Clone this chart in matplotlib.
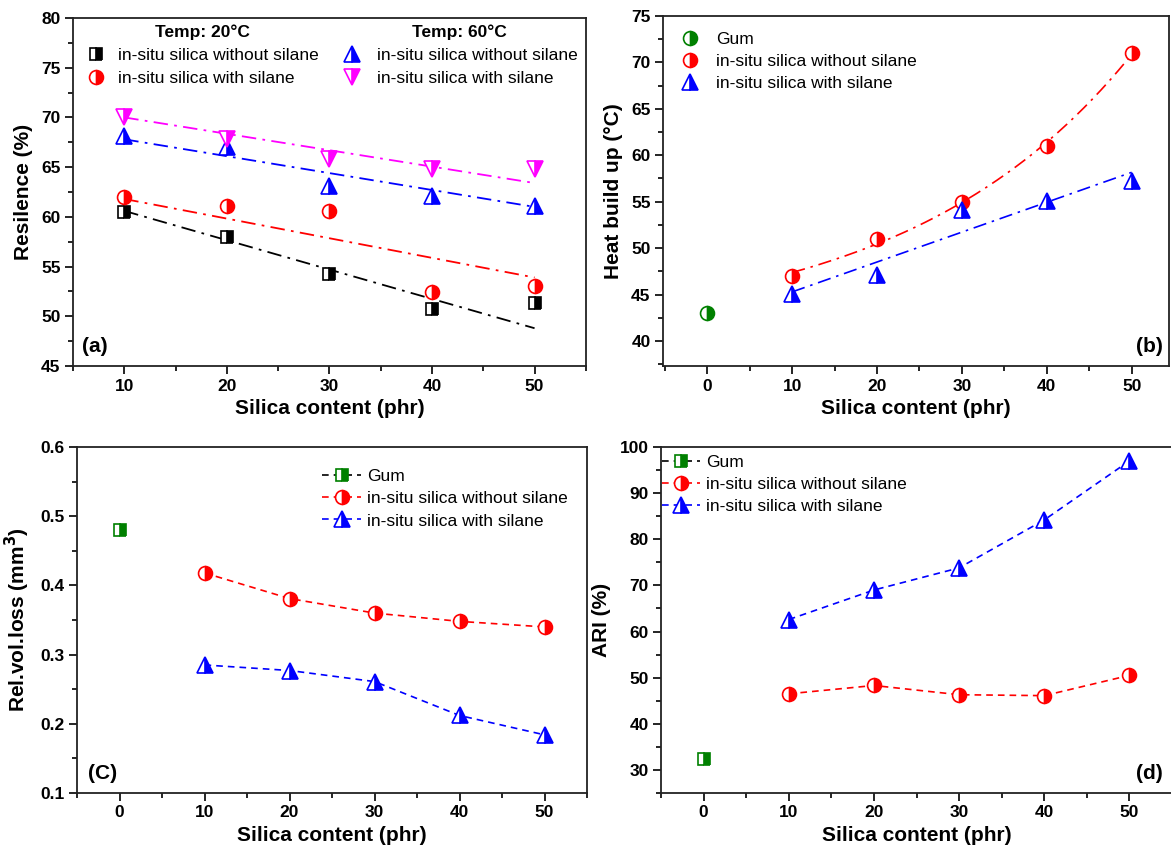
import numpy as np
import matplotlib
matplotlib.use('Agg')
import matplotlib.pyplot as plt
from matplotlib.ticker import MultipleLocator

plt.rcParams['font.family'] = ['Liberation Sans', 'DejaVu Sans']

# ---------------- data ----------------
silica = [10, 20, 30, 40, 50]
gum_x = [0]

# (a) Resilience (%)
res_20_wo = [60.5, 58.0, 54.3, 50.7, 51.3]
res_20_w = [62.0, 61.1, 60.6, 52.4, 53.0]
res_60_wo = [68.1, 67.0, 63.1, 62.1, 61.1]
res_60_w = [70.0, 67.8, 65.8, 64.8, 64.8]
# straight trend lines, end values read at 10 and 50 phr
fit_x = [10, 50]
fit_20_wo = [60.6, 48.8]
fit_20_w = [61.8, 53.9]
fit_60_wo = [67.8, 61.0]
fit_60_w = [70.0, 63.4]

# (b) Heat build up (°C)
heat_gum = [43.0]
heat_wo = [47.0, 51.0, 55.0, 61.0, 71.0]
heat_w = [45.1, 47.1, 54.1, 55.1, 57.2]

# (c) Rel. vol. loss (mm3)
vol_gum = [0.48]
vol_wo = [0.418, 0.381, 0.360, 0.348, 0.340]
vol_w = [0.285, 0.277, 0.261, 0.212, 0.184]

# (d) ARI (%)
ari_gum = [32.4]
ari_wo = [46.5, 48.3, 46.3, 46.1, 50.5]
ari_w = [62.6, 69.0, 73.8, 84.2, 97.0]

labels3 = ['Gum', 'in-situ silica without silane', 'in-situ silica with silane']
labels2 = ['in-situ silica without silane', 'in-situ silica with silane']

# ---------------- helpers ----------------
BLUE = '#0000FF'
RED = '#FF0000'
MAG = '#FF00FF'
GREEN = '#008000'
TICK_FS = 12.5
LAB_FS = 15
LEG_FS = 12.5
DASHDOT = (0, (8, 3.5, 1.5, 3.5))
DASHED = (0, (4, 3))


def exp_fit(x, y):
    x = np.asarray(x, float)
    y = np.asarray(y, float)
    best = None
    for t in np.concatenate([np.linspace(5, 400, 800), -np.linspace(5, 400, 800)]):
        B = np.column_stack([np.ones_like(x), np.exp(x / t)])
        coef, *_ = np.linalg.lstsq(B, y, rcond=None)
        r = np.sum((B @ coef - y) ** 2)
        if best is None or r < best[0]:
            best = (r, t, coef)
    _, t, coef = best
    xs = np.linspace(x.min(), x.max(), 200)
    return xs, coef[0] + coef[1] * np.exp(xs / t)


def style(ax, xlim, ylim, xmaj, xmin, ymaj, ymin):
    ax.set_xlim(*xlim)
    ax.set_ylim(*ylim)
    ax.xaxis.set_major_locator(MultipleLocator(xmaj))
    ax.xaxis.set_minor_locator(MultipleLocator(xmin))
    ax.yaxis.set_major_locator(MultipleLocator(ymaj))
    ax.yaxis.set_minor_locator(MultipleLocator(ymin))
    ax.tick_params(which='major', direction='out', length=6, width=1.2,
                   labelsize=TICK_FS, pad=3)
    ax.tick_params(which='minor', direction='out', length=3.5, width=1.2)
    for lab in ax.get_xticklabels() + ax.get_yticklabels():
        lab.set_fontweight('bold')
    for s in ax.spines.values():
        s.set_linewidth(1.3)
        s.set_color('#222222')


def mk(color, marker, ms=10):
    return dict(marker=marker, ms=ms, mfc=color, mec=color, mfcalt='white',
                fillstyle='right', mew=1.2)


fig = plt.figure(figsize=(11.71, 8.51), dpi=100)

# ---------------- (a) ----------------
ax = fig.add_axes([0.0623, 0.5699, 0.438, 0.409])
ax.plot(fit_x, fit_20_wo, color='black', lw=1.3, ls=DASHDOT)
ax.plot(fit_x, fit_20_w, color=RED, lw=1.3, ls=DASHDOT)
ax.plot(fit_x, fit_60_wo, color=BLUE, lw=1.3, ls=DASHDOT)
ax.plot(fit_x, fit_60_w, color=MAG, lw=1.3, ls=DASHDOT)
h1, = ax.plot(silica, res_20_wo, ls='none', **mk('black', 's', 9))
h2, = ax.plot(silica, res_20_w, ls='none', **mk(RED, 'o', 10))
h3, = ax.plot(silica, res_60_wo, ls='none', **mk(BLUE, '^', 11))
h4, = ax.plot(silica, res_60_w, ls='none', **mk(MAG, 'v', 11))
style(ax, (5, 55), (45, 80), 10, 5, 5, 2.5)
ax.set_xlabel('Silica content (phr)', fontsize=LAB_FS, fontweight='bold', labelpad=4)
ax.set_ylabel('Resilence (%)', fontsize=LAB_FS, fontweight='bold', labelpad=6)
leg1 = ax.legend([h1, h2], labels2,
                 title='Temp: 20°C', loc='upper left', bbox_to_anchor=(0.004, 1.01),
                 frameon=False, fontsize=LEG_FS, handlelength=1.2, handletextpad=0.7,
                 labelspacing=0.45, borderaxespad=0.2)
leg1.get_title().set_fontweight('bold')
leg1.get_title().set_fontsize(LEG_FS)
ax.add_artist(leg1)
leg2 = ax.legend([h3, h4], labels2,
                 title='Temp: 60°C', loc='upper left', bbox_to_anchor=(0.504, 1.01),
                 frameon=False, fontsize=LEG_FS, handlelength=1.2, handletextpad=0.8,
                 labelspacing=0.45, borderaxespad=0.2)
leg2.get_title().set_fontweight('bold')
leg2.get_title().set_fontsize(LEG_FS)
ax.text(0.018, 0.03, '(a)', transform=ax.transAxes, fontsize=LAB_FS,
        fontweight='bold', ha='left', va='bottom')

# ---------------- (b) ----------------
ax = fig.add_axes([0.5662, 0.5699, 0.4321, 0.4113])
xs, ys = exp_fit(silica, heat_wo)
ax.plot(xs, ys, color=RED, lw=1.2, ls=DASHDOT)
pb = np.polyfit(silica, heat_w, 1)
xs2 = np.linspace(min(silica), max(silica), 50)
ax.plot(xs2, np.polyval(pb, xs2), color=BLUE, lw=1.2, ls=DASHDOT)
g1, = ax.plot(gum_x, heat_gum, ls='none', **mk(GREEN, 'o', 10))
g2, = ax.plot(silica, heat_wo, ls='none', **mk(RED, 'o', 10))
g3, = ax.plot(silica, heat_w, ls='none', **mk(BLUE, '^', 11))
style(ax, (-5.2, 54.4), (37.3, 75), 10, 5, 5, 2.5)
ax.set_xlabel('Silica content (phr)', fontsize=LAB_FS, fontweight='bold', labelpad=4)
ax.set_ylabel('Heat build up (°C)', fontsize=LAB_FS, fontweight='bold', labelpad=6)
ax.legend([g1, g2, g3], labels3,
          loc='upper left', bbox_to_anchor=(0.006, 0.994), frameon=False, fontsize=LEG_FS,
          handlelength=1.2, handletextpad=0.9, labelspacing=0.4, borderaxespad=0.4)
ax.text(0.988, 0.03, '(b)', transform=ax.transAxes, fontsize=LAB_FS,
        fontweight='bold', ha='right', va='bottom')

# ---------------- (c) ----------------
ax = fig.add_axes([0.0658, 0.0682, 0.4355, 0.4065])
c1, = ax.plot(gum_x, vol_gum, color='black', ls=DASHED, lw=1.2, **mk(GREEN, 's', 9))
c2, = ax.plot(silica, vol_wo, color=RED, ls=DASHED, lw=1.2, **mk(RED, 'o', 10))
c3, = ax.plot(silica, vol_w, color=BLUE, ls=DASHED, lw=1.2, **mk(BLUE, '^', 11))
style(ax, (-5, 55), (0.1, 0.6), 10, 5, 0.1, 0.05)
ax.set_xlabel('Silica content (phr)', fontsize=LAB_FS, fontweight='bold', labelpad=4)
ax.set_ylabel('Rel.vol.loss (mm$^\\mathbf{3}$)', fontsize=LAB_FS, fontweight='bold', labelpad=6)
ax.legend([c1, c2, c3], labels3,
          loc='upper right', bbox_to_anchor=(0.982, 0.966), frameon=False, fontsize=LEG_FS,
          handlelength=2.3, handletextpad=0.3, labelspacing=0.4, borderaxespad=0.2)
ax.text(0.022, 0.03, '(C)', transform=ax.transAxes, fontsize=LAB_FS,
        fontweight='bold', ha='left', va='bottom')

# ---------------- (d) ----------------
ax = fig.add_axes([0.5645, 0.0682, 0.4364, 0.4065])
d1, = ax.plot(gum_x, ari_gum, color='black', ls=DASHED, lw=1.2, **mk(GREEN, 's', 9))
d2, = ax.plot(silica, ari_wo, color=RED, ls=DASHED, lw=1.2, **mk(RED, 'o', 10))
d3, = ax.plot(silica, ari_w, color=BLUE, ls=DASHED, lw=1.2, **mk(BLUE, '^', 11))
style(ax, (-5, 55), (25, 100), 10, 5, 10, 5)
ax.set_xlabel('Silica content (phr)', fontsize=LAB_FS, fontweight='bold', labelpad=4)
ax.set_ylabel('ARI (%)', fontsize=LAB_FS, fontweight='bold', labelpad=6)
ax.legend([d1, d2, d3], labels3,
          loc='upper left', bbox_to_anchor=(-0.018, 1.008), frameon=False, fontsize=LEG_FS,
          handlelength=2.2, handletextpad=0.3, labelspacing=0.4, borderaxespad=0.2)
ax.text(0.982, 0.03, '(d)', transform=ax.transAxes, fontsize=LAB_FS,
        fontweight='bold', ha='right', va='bottom')

fig.savefig('out.png', dpi=100)
